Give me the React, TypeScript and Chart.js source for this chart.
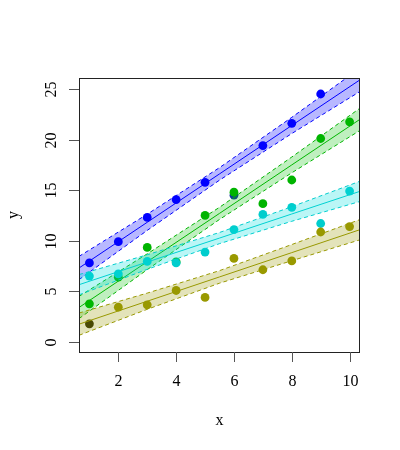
import { Chart, registerables, type ChartConfiguration, type Plugin } from "chart.js";
import { useEffect, useRef } from "react";

Chart.register(...registerables);

// observations, x = 1..10
const xs = [1, 2, 3, 4, 5, 6, 7, 8, 9, 10];
const blueY = [7.8, 9.9, 12.3, 14.06, 15.77, 14.5, 19.4, 21.6, 24.5, 26.7];
const greenY = [3.76, 6.4, 9.34, 7.9, 12.5, 14.8, 13.66, 16.0, 20.1, 21.75];
const cyanY = [6.5, 6.73, 7.95, 7.8, 8.88, 11.1, 12.6, 13.3, 11.7, 14.9];
const oliveY = [1.78, 3.43, 3.66, 5.08, 4.39, 8.25, 7.13, 8.0, 10.86, 11.4];

// fitted lines and confidence bands, read at a few x positions
const bandX = [0.64, 3, 5.5, 8, 10.36];
const blueFit = [7.3, 11.82, 16.6, 21.39, 25.9];
const blueUpper = [8.45, 12.62, 17.22, 22.19, 27.05];
const blueLower = [6.15, 11.02, 15.98, 20.59, 24.75];
const greenFit = [3.4, 7.92, 12.7, 17.49, 22.0];
const greenUpper = [4.5, 8.7, 13.3, 18.27, 23.1];
const greenLower = [2.3, 7.14, 12.1, 16.71, 20.9];
const cyanFit = [5.65, 7.89, 10.26, 12.64, 14.88];
const cyanUpper = [6.65, 8.61, 10.81, 13.36, 15.88];
const cyanLower = [4.65, 7.17, 9.71, 11.92, 13.88];
const oliveFit = [1.75, 4.02, 6.42, 8.82, 11.09];
const oliveUpper = [2.85, 4.82, 7.04, 9.62, 12.09];
const oliveLower = [0.65, 3.22, 5.8, 8.02, 10.09];

const xTicks = [2, 4, 6, 8, 10];
const yTicks = [0, 5, 10, 15, 20, 25];

const SERIF = '"Liberation Serif", "DejaVu Serif", serif';

const pts = (x: number[], y: number[]) => x.map((v, i) => ({ x: v, y: y[i] }));

function group(
  name: string,
  color: string,
  fill: string,
  y: number[],
  fit: number[],
  upper: number[],
  lower: number[],
  pointColors?: string[]
) {
  return [
    {
      label: name + " upper",
      data: pts(bandX, upper),
      showLine: true,
      borderColor: color,
      borderWidth: 1,
      borderDash: [4, 3],
      pointRadius: 0,
      backgroundColor: fill,
      fill: "+1"
    },
    {
      label: name + " lower",
      data: pts(bandX, lower),
      showLine: true,
      borderColor: color,
      borderWidth: 1,
      borderDash: [4, 3],
      pointRadius: 0,
      fill: false
    },
    {
      label: name + " fit",
      data: pts(bandX, fit),
      showLine: true,
      borderColor: color,
      borderWidth: 1,
      pointRadius: 0,
      fill: false
    },
    {
      label: name,
      data: pts(xs, y),
      showLine: false,
      pointRadius: 4.4,
      pointBorderWidth: 0,
      pointBackgroundColor: pointColors ?? color,
      pointBorderColor: pointColors ?? color,
      fill: false
    }
  ];
}

// base-graphics style box, ticks and labels
const rAxes: Plugin<"scatter"> = {
  id: "rAxes",
  afterDraw(chart) {
    const { ctx, chartArea: a } = chart;
    const sx = chart.scales.x;
    const sy = chart.scales.y;
    ctx.save();
    ctx.strokeStyle = "#222";
    ctx.lineWidth = 1;
    ctx.strokeRect(a.left + 0.5, a.top + 0.5, a.right - a.left - 1, a.bottom - a.top);
    ctx.fillStyle = "#000";
    ctx.font = "16px " + SERIF;
    ctx.strokeStyle = "#555";
    ctx.textAlign = "center";
    ctx.textBaseline = "middle";
    for (const t of xTicks) {
      const px = Math.round(sx.getPixelForValue(t)) + 0.5;
      ctx.beginPath();
      ctx.moveTo(px, a.bottom);
      ctx.lineTo(px, a.bottom + 10);
      ctx.stroke();
      ctx.fillText(String(t), px, 382);
    }
    for (const t of yTicks) {
      const py = Math.round(sy.getPixelForValue(t)) + 0.5;
      ctx.beginPath();
      ctx.moveTo(a.left - 10, py);
      ctx.lineTo(a.left, py);
      ctx.stroke();
      ctx.save();
      ctx.translate(52, py);
      ctx.rotate(-Math.PI / 2);
      ctx.fillText(String(t), 0, 0);
      ctx.restore();
    }
    ctx.fillText("x", (a.left + a.right) / 2, 421);
    ctx.save();
    ctx.translate(14, (a.top + a.bottom) / 2);
    ctx.rotate(-Math.PI / 2);
    ctx.fillText("y", 0, 0);
    ctx.restore();
    ctx.restore();
  }
};

function chartConfig(): ChartConfiguration<"scatter"> {
  const olivePts = oliveY.map((_, i) => (i === 0 ? "#2e2e06" : "#999900"));
  const bluePts = blueY.map((_, i) => (i === 5 ? "#123a9c" : "#0000ff"));
  return {
    type: "scatter",
    data: {
      datasets: [
        ...group("olive", "#999900", "rgba(153,153,0,0.27)", oliveY, oliveFit, oliveUpper, oliveLower, olivePts),
        ...group("cyan", "#00cdcd", "rgba(0,220,220,0.27)", cyanY, cyanFit, cyanUpper, cyanLower),
        ...group("green", "#00b400", "rgba(0,190,0,0.25)", greenY, greenFit, greenUpper, greenLower),
        ...group("blue", "#0000ff", "rgba(0,0,255,0.28)", blueY, blueFit, blueUpper, blueLower, bluePts)
      ] as any
    },
    options: {
      animation: false,
      responsive: true,
      maintainAspectRatio: false,
      layout: {
        padding: { left: 79, top: 78, right: 40, bottom: 98 }
      },
      plugins: {
        legend: { display: false },
        tooltip: { enabled: false }
      },
      scales: {
        x: { type: "linear", min: 0.64, max: 10.36, display: false },
        y: { type: "linear", min: -1, max: 26.08, display: false }
      }
    },
    plugins: [rAxes]
  };
}

export default function App() {
  const canvasRef = useRef<HTMLCanvasElement | null>(null);

  useEffect(() => {
    const canvas = canvasRef.current;
    if (!canvas) {
      return;
    }
    const chart = new Chart(canvas, chartConfig());
    return () => chart.destroy();
  }, []);

  return (
    <div style={{ position: "absolute", left: 0, top: 0, width: 400, height: 450, background: "#fff" }}>
      <canvas ref={canvasRef} />
    </div>
  );
}
